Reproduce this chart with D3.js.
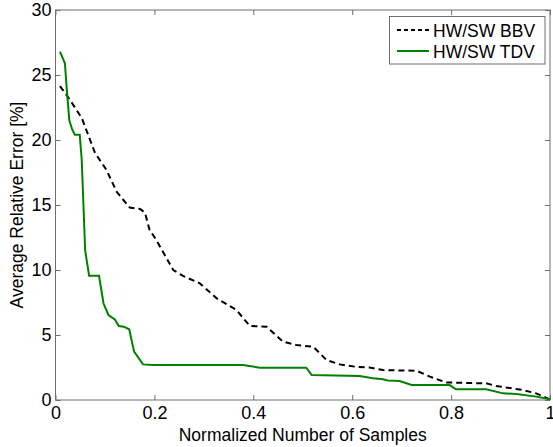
<!DOCTYPE html>
<html>
<head>
<meta charset="utf-8">
<script src="https://cdn.jsdelivr.net/npm/d3@7"></script>
<style>
body { margin: 0; background: #fff; }
text { font-family: Arial, "Liberation Sans", sans-serif; }
</style>
</head>
<body>
<svg id="chart" width="553" height="447"></svg>
<script>
// series
var bbvX = [0.009, 0.029, 0.053, 0.08, 0.103, 0.124, 0.15, 0.171, 0.181, 0.19, 0.204, 0.238, 0.258, 0.292, 0.326, 0.366, 0.393, 0.427, 0.46, 0.487, 0.521, 0.548, 0.575, 0.608, 0.635, 0.662, 0.73, 0.757, 0.79, 0.871, 0.891, 0.945, 0.972, 1.0];
var bbvY = [24.15, 23.1, 21.7, 19.0, 17.7, 16.0, 14.8, 14.7, 14.4, 13.1, 12.3, 10.0, 9.54, 8.97, 7.82, 6.92, 5.69, 5.64, 4.49, 4.23, 4.1, 3.08, 2.74, 2.55, 2.5, 2.3, 2.25, 1.8, 1.35, 1.28, 1.08, 0.77, 0.51, 0.05];

var tdvX = [0.009, 0.019, 0.023, 0.028, 0.033, 0.039, 0.049, 0.053, 0.06, 0.068, 0.088, 0.097, 0.107, 0.12, 0.128, 0.138, 0.149, 0.159, 0.177, 0.198, 0.379, 0.413, 0.507, 0.518, 0.615, 0.642, 0.662, 0.672, 0.696, 0.72, 0.797, 0.81, 0.871, 0.905, 0.932, 0.972, 1.0];
var tdvY = [26.8, 25.9, 23.8, 21.5, 20.9, 20.4, 20.4, 18.5, 11.5, 9.56, 9.56, 7.44, 6.54, 6.2, 5.69, 5.64, 5.44, 3.72, 2.74, 2.69, 2.69, 2.49, 2.48, 1.92, 1.85, 1.67, 1.6, 1.5, 1.46, 1.15, 1.15, 0.82, 0.82, 0.51, 0.46, 0.26, 0.05];

var xTicks = [0, 0.2, 0.4, 0.6, 0.8, 1];
var yTicks = [0, 5, 10, 15, 20, 25, 30];
var seriesNames = ['HW/SW BBV', 'HW/SW TDV'];

var svg = d3.select('#chart');
var plotL = 55.5, plotT = 10, plotR = 550, plotB = 400;

var x = d3.scaleLinear().domain([0, 1]).range([plotL, plotR]);
var y = d3.scaleLinear().domain([0, 30]).range([plotB, plotT]);

var axisColor = '#6e6e6e';

// box
svg.append('rect')
    .attr('x', plotL).attr('y', plotT)
    .attr('width', plotR - plotL).attr('height', plotB - plotT)
    .attr('fill', 'none').attr('stroke', axisColor).attr('stroke-width', 1);

function styleAxis(g) {
    g.select('.domain').remove();
    g.selectAll('.tick line').attr('stroke', axisColor);
    g.selectAll('.tick text').attr('fill', '#000').style('font-size', '18px');
}

svg.append('g').attr('transform', 'translate(0,' + plotB + ')')
    .call(d3.axisBottom(x).tickValues(xTicks).tickFormat(d3.format('')).tickSizeInner(-5).tickPadding(6))
    .call(styleAxis);
svg.append('g').attr('transform', 'translate(0,' + plotT + ')')
    .call(d3.axisTop(x).tickValues(xTicks).tickSizeInner(-5).tickFormat(''))
    .call(styleAxis);
svg.append('g').attr('transform', 'translate(' + plotL + ',0)')
    .call(d3.axisLeft(y).tickValues(yTicks).tickSizeInner(-5).tickPadding(4))
    .call(styleAxis);
svg.append('g').attr('transform', 'translate(' + plotR + ',0)')
    .call(d3.axisRight(y).tickValues(yTicks).tickSizeInner(-5).tickFormat(''))
    .call(styleAxis);

// labels
svg.append('text')
    .attr('x', (plotL + plotR) / 2).attr('y', 441)
    .attr('text-anchor', 'middle').style('font-size', '17.5px')
    .text('Normalized Number of Samples');
svg.append('text')
    .attr('transform', 'translate(23,' + (plotT + plotB) / 2 + ') rotate(-90)')
    .attr('text-anchor', 'middle').style('font-size', '17.5px')
    .text('Average Relative Error [%]');

var line = d3.line().x(function(d) { return x(d[0]); }).y(function(d) { return y(d[1]); });

svg.append('path')
    .datum(d3.zip(bbvX, bbvY))
    .attr('d', line)
    .attr('fill', 'none').attr('stroke', '#000').attr('stroke-width', 2)
    .attr('stroke-dasharray', '6,4');

svg.append('path')
    .datum(d3.zip(tdvX, tdvY))
    .attr('d', line)
    .attr('fill', 'none').attr('stroke', '#008000').attr('stroke-width', 2);

// legend
var lg = svg.append('g');
lg.append('rect')
    .attr('x', 389.5).attr('y', 16.5).attr('width', 155.5).attr('height', 47.5)
    .attr('fill', '#fff').attr('stroke', axisColor);
var styles = [{c: '#000', dash: '4,3'}, {c: '#008000', dash: null}];
seriesNames.forEach(function(n, i) {
    var yy = 30 + i * 21;
    lg.append('line')
        .attr('x1', 397).attr('x2', 429).attr('y1', yy).attr('y2', yy)
        .attr('stroke', styles[i].c).attr('stroke-width', 2)
        .attr('stroke-dasharray', styles[i].dash);
    lg.append('text')
        .attr('x', 433).attr('y', yy + 6.5)
        .style('font-size', '17.5px')
        .text(n);
});
</script>
</body>
</html>
